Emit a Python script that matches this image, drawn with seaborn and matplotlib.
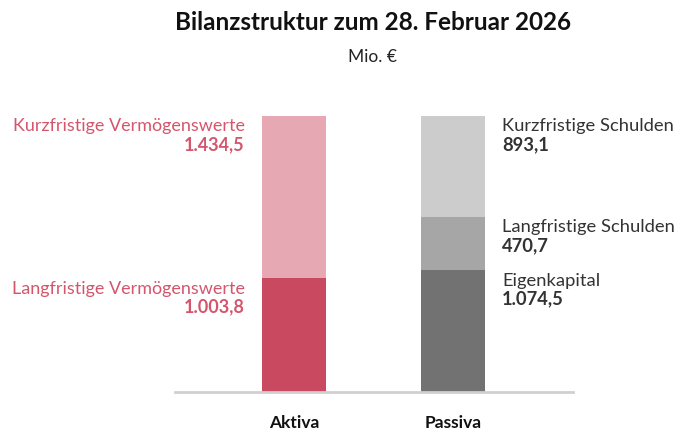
import matplotlib
matplotlib.use("Agg")
import matplotlib.pyplot as plt
import seaborn as sns

sns.set_theme(style="white")
plt.rcParams['font.family'] = ['Lato', 'DejaVu Sans']

# data
categories = ["Aktiva", "Passiva"]
aktiva_labels = ["Langfristige Vermögenswerte", "Kurzfristige Vermögenswerte"]
aktiva_values = [1003.8, 1434.5]
aktiva_colors = ["#c94a60", "#e6a9b4"]
passiva_labels = ["Eigenkapital", "Langfristige Schulden", "Kurzfristige Schulden"]
passiva_values = [1074.5, 470.7, 893.1]
passiva_colors = ["#727272", "#a6a6a6", "#cccccc"]

W, H = 677, 431
fig = plt.figure(figsize=(W / 100, H / 100), dpi=100)
ax = fig.add_axes([175 / W, (H - 393) / H, (573 - 175) / W, (393 - 117) / H])


def fmt(v):
    s = f"{v:,.1f}"
    return s.replace(",", "X").replace(".", ",").replace("X", ".")


def stack(cat, values, colors):
    cum = []
    total = 0
    for v in values:
        total += v
        cum.append(total)
    # draw from the top down so lower layers cover upper ones
    for c, col in reversed(list(zip(cum, colors))):
        sns.barplot(x=[cat], y=[c], order=categories, color=col, width=0.4,
                    saturation=1, linewidth=0, ax=ax)
    return [c - v for c, v in zip(cum, values)], cum


a_bottom, a_top = stack("Aktiva", aktiva_values, aktiva_colors)
p_bottom, p_top = stack("Passiva", passiva_values, passiva_colors)

total = max(a_top[-1], p_top[-1])
ax.set_ylim(0, total)
ax.set_xlim(-0.748, 1.755)

# labels left of Aktiva
for lab, val, top in zip(aktiva_labels, aktiva_values, a_top):
    ax.text(-0.31, top - 10, lab, ha="right", va="top", fontsize=13, color="#d4566d")
    ax.text(-0.31, top - 170, fmt(val), ha="right", va="top", fontsize=13,
            color="#d4566d", fontweight="bold")

# labels right of Passiva
for lab, val, top in zip(passiva_labels, passiva_values, p_top):
    ax.text(1.31, top - 10, lab, ha="left", va="top", fontsize=13.2, color="#333333")
    ax.text(1.31, top - 170, fmt(val), ha="left", va="top", fontsize=13.2,
            color="#333333", fontweight="bold")

sns.despine(ax=ax, left=True, top=True, right=True)
ax.spines["bottom"].set_color("#d0d0d0")
ax.spines["bottom"].set_linewidth(2)
ax.set_yticks([])
ax.set_xlabel("")
ax.set_ylabel("")
ax.tick_params(axis="x", length=0, pad=16)
for t in ax.get_xticklabels():
    t.set_fontweight("bold")
    t.set_fontsize(12.5)
    t.set_color("#111111")

fig.text(373 / W, 1 - 22 / H, "Bilanzstruktur zum 28. Februar 2026", ha="center",
         va="center", fontsize=17.5, fontweight="bold", color="#111111")
fig.text(373 / W, 1 - 57 / H, "Mio. €", ha="center", va="center", fontsize=12.5,
         color="#222222")

fig.savefig("out.png", dpi=100)
